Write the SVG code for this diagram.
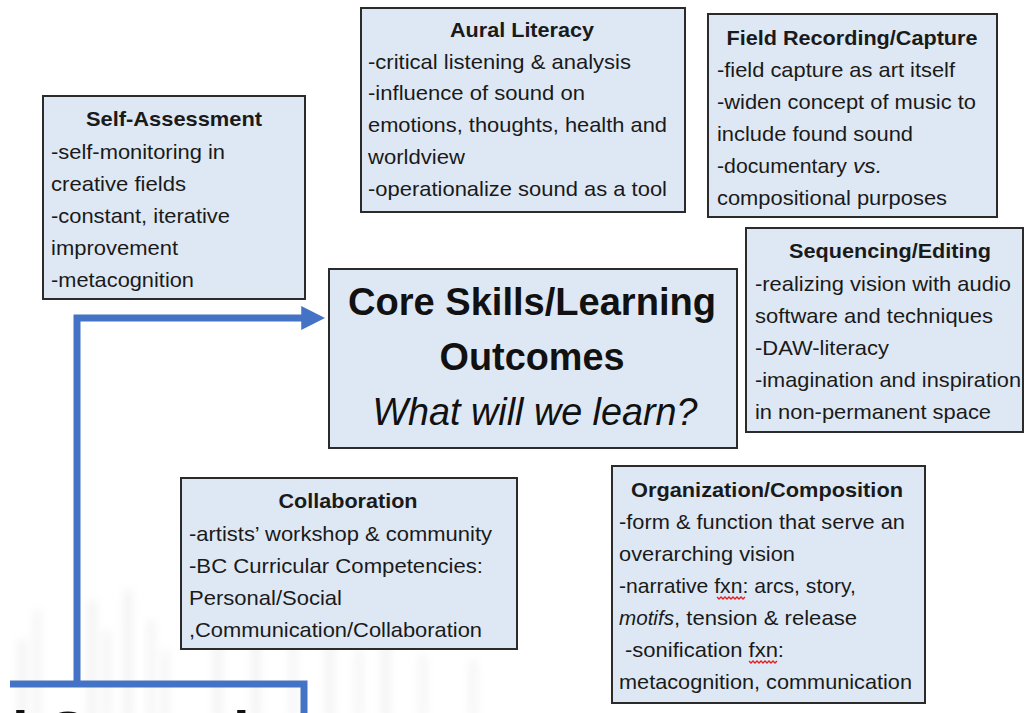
<svg xmlns="http://www.w3.org/2000/svg" width="1024" height="713" viewBox="0 0 1024 713">
  <defs>
    <style>
      .box { fill: #dee8f4; stroke: #2b2b2b; stroke-width: 2; }
      .t { font-family: "Liberation Sans Narrow", "Liberation Sans", Arial, sans-serif; font-size: 21px; fill: #1a1a1a; }
      .h { font-weight: bold; text-anchor: middle; }
      .core { font-family: "Liberation Sans", Arial, sans-serif; font-size: 38px; fill: #111; text-anchor: middle; }
      .link { fill: none; stroke: #4472c4; stroke-width: 7; }
      .squig { fill: none; stroke: #e02020; stroke-width: 1.3; }
      .frag { font-family: "Liberation Sans", Arial, sans-serif; font-size: 60px; font-weight: bold; fill: #111; }
    </style>
    <marker id="arrow" viewBox="0 0 10 10" refX="2" refY="5" markerWidth="3.4" markerHeight="3.4" orient="auto" markerUnits="strokeWidth">
      <path d="M0,0 L10,5 L0,10 z" fill="#4472c4"/>
    </marker>
    <filter id="soft" x="-50%" y="-20%" width="200%" height="140%">
      <feGaussianBlur stdDeviation="4"/>
    </filter>
  </defs>

  <rect width="1024" height="713" fill="#ffffff"/>

  <!-- faint waveform backdrop, lower left -->
  <g id="waveform" fill="#c4c4c4" opacity="0.22" filter="url(#soft)">
    <rect x="18" y="640" width="8" height="80"/>
    <rect x="34" y="610" width="6" height="110"/>
    <rect x="88" y="600" width="8" height="120"/>
    <rect x="104" y="630" width="6" height="90"/>
    <rect x="124" y="590" width="8" height="130"/>
    <rect x="148" y="620" width="6" height="100"/>
    <rect x="162" y="650" width="6" height="70"/>
    <rect x="214" y="630" width="8" height="90"/>
    <rect x="252" y="600" width="8" height="120"/>
    <rect x="290" y="640" width="6" height="80"/>
    <rect x="326" y="620" width="8" height="100"/>
    <rect x="356" y="650" width="6" height="70"/>
    <rect x="382" y="630" width="8" height="90"/>
    <rect x="420" y="655" width="6" height="65"/>
    <rect x="470" y="660" width="6" height="60"/>
  </g>

  <!-- lower frame heading, running off the bottom edge -->
  <g id="lower-frame">
    <text class="frag" x="12" y="753">l C</text>
    <text class="frag" x="233" y="753">l</text>
  </g>

  <!-- connectors -->
  <g id="connectors">
    <polyline class="link" points="10,684 304,684 304,713"/>
    <polyline class="link" points="77,684 77,318 306,318" marker-end="url(#arrow)"/>
  </g>

  <g id="self-assessment">
    <rect class="box" x="43" y="96" width="262" height="203"/>
    <text class="t h" x="174" y="126" textLength="176" lengthAdjust="spacingAndGlyphs">Self-Assessment</text>
    <text class="t" x="51" y="159" textLength="174" lengthAdjust="spacingAndGlyphs">-self-monitoring in</text>
    <text class="t" x="51" y="191" textLength="135" lengthAdjust="spacingAndGlyphs">creative fields</text>
    <text class="t" x="51" y="223" textLength="179" lengthAdjust="spacingAndGlyphs">-constant, iterative</text>
    <text class="t" x="51" y="255" textLength="127" lengthAdjust="spacingAndGlyphs">improvement</text>
    <text class="t" x="51" y="287" textLength="143" lengthAdjust="spacingAndGlyphs">-metacognition</text>
  </g>

  <g id="aural-literacy">
    <rect class="box" x="361" y="8" width="324" height="204"/>
    <text class="t h" x="522" y="37" textLength="144" lengthAdjust="spacingAndGlyphs">Aural Literacy</text>
    <text class="t" x="368" y="69" textLength="263" lengthAdjust="spacingAndGlyphs">-critical listening &amp; analysis</text>
    <text class="t" x="368" y="100" textLength="217" lengthAdjust="spacingAndGlyphs">-influence of sound on</text>
    <text class="t" x="368" y="132" textLength="299" lengthAdjust="spacingAndGlyphs">emotions, thoughts, health and</text>
    <text class="t" x="368" y="164" textLength="97" lengthAdjust="spacingAndGlyphs">worldview</text>
    <text class="t" x="368" y="196" textLength="299" lengthAdjust="spacingAndGlyphs">-operationalize sound as a tool</text>
  </g>

  <g id="field-recording">
    <rect class="box" x="708" y="14" width="289" height="203"/>
    <text class="t h" x="852" y="45" textLength="251" lengthAdjust="spacingAndGlyphs">Field Recording/Capture</text>
    <text class="t" x="717" y="77" textLength="238" lengthAdjust="spacingAndGlyphs">-field capture as art itself</text>
    <text class="t" x="717" y="109" textLength="259" lengthAdjust="spacingAndGlyphs">-widen concept of music to</text>
    <text class="t" x="717" y="141" textLength="196" lengthAdjust="spacingAndGlyphs">include found sound</text>
    <text class="t" x="717" y="173" textLength="130" lengthAdjust="spacingAndGlyphs">-documentary</text>
    <text class="t" x="853" y="173" font-style="italic" textLength="29" lengthAdjust="spacingAndGlyphs">vs.</text>
    <text class="t" x="717" y="205" textLength="230" lengthAdjust="spacingAndGlyphs">compositional purposes</text>
  </g>

  <g id="sequencing-editing">
    <rect class="box" x="746" y="228" width="277" height="204"/>
    <text class="t h" x="890" y="258" textLength="202" lengthAdjust="spacingAndGlyphs">Sequencing/Editing</text>
    <text class="t" x="755" y="291" textLength="256" lengthAdjust="spacingAndGlyphs">-realizing vision with audio</text>
    <text class="t" x="755" y="323" textLength="238" lengthAdjust="spacingAndGlyphs">software and techniques</text>
    <text class="t" x="755" y="355" textLength="134" lengthAdjust="spacingAndGlyphs">-DAW-literacy</text>
    <text class="t" x="755" y="387" textLength="266" lengthAdjust="spacingAndGlyphs">-imagination and inspiration</text>
    <text class="t" x="755" y="419" textLength="236" lengthAdjust="spacingAndGlyphs">in non-permanent space</text>
  </g>

  <g id="core-skills">
    <rect class="box" x="329" y="269" width="408" height="179"/>
    <text class="core" x="532" y="315" font-weight="bold" textLength="368" lengthAdjust="spacingAndGlyphs">Core Skills/Learning</text>
    <text class="core" x="532" y="370" font-weight="bold" textLength="185" lengthAdjust="spacingAndGlyphs">Outcomes</text>
    <text class="core" x="535" y="425" font-style="italic" textLength="325" lengthAdjust="spacingAndGlyphs">What will we learn?</text>
  </g>

  <g id="collaboration">
    <rect class="box" x="181" y="478" width="336" height="171"/>
    <text class="t h" x="348" y="508" textLength="139" lengthAdjust="spacingAndGlyphs">Collaboration</text>
    <text class="t" x="189" y="541" textLength="303" lengthAdjust="spacingAndGlyphs">-artists’ workshop &amp; community</text>
    <text class="t" x="189" y="573" textLength="294" lengthAdjust="spacingAndGlyphs">-BC Curricular Competencies:</text>
    <text class="t" x="189" y="605" textLength="153" lengthAdjust="spacingAndGlyphs">Personal/Social</text>
    <text class="t" x="189" y="637" textLength="293" lengthAdjust="spacingAndGlyphs">,Communication/Collaboration</text>
  </g>

  <g id="organization-composition">
    <rect class="box" x="612" y="466" width="313" height="237"/>
    <text class="t h" x="767" y="497" textLength="272" lengthAdjust="spacingAndGlyphs">Organization/Composition</text>
    <text class="t" x="619" y="529" textLength="286" lengthAdjust="spacingAndGlyphs">-form &amp; function that serve an</text>
    <text class="t" x="619" y="561" textLength="176" lengthAdjust="spacingAndGlyphs">overarching vision</text>
    <text class="t" x="619" y="593" textLength="237" lengthAdjust="spacingAndGlyphs">-narrative fxn: arcs, story,</text>
    <text class="t" x="619" y="625" font-style="italic" textLength="55" lengthAdjust="spacingAndGlyphs">motifs</text>
    <text class="t" x="674" y="625" textLength="183" lengthAdjust="spacingAndGlyphs">, tension &amp; release</text>
    <text class="t" x="625" y="657" textLength="159" lengthAdjust="spacingAndGlyphs">-sonification fxn:</text>
    <text class="t" x="619" y="689" textLength="293" lengthAdjust="spacingAndGlyphs">metacognition, communication</text>
    <!-- spell-check underlines beneath "fxn" -->
    <path class="squig" d="M717,597 l2,2 l2,-2 l2,2 l2,-2 l2,2 l2,-2 l2,2 l2,-2 l2,2 l2,-2 l2,2 l2,-2 l2,2 l2,-2"/>
    <path class="squig" d="M749,661 l2,2 l2,-2 l2,2 l2,-2 l2,2 l2,-2 l2,2 l2,-2 l2,2 l2,-2 l2,2 l2,-2 l2,2 l2,-2"/>
  </g>
</svg>
